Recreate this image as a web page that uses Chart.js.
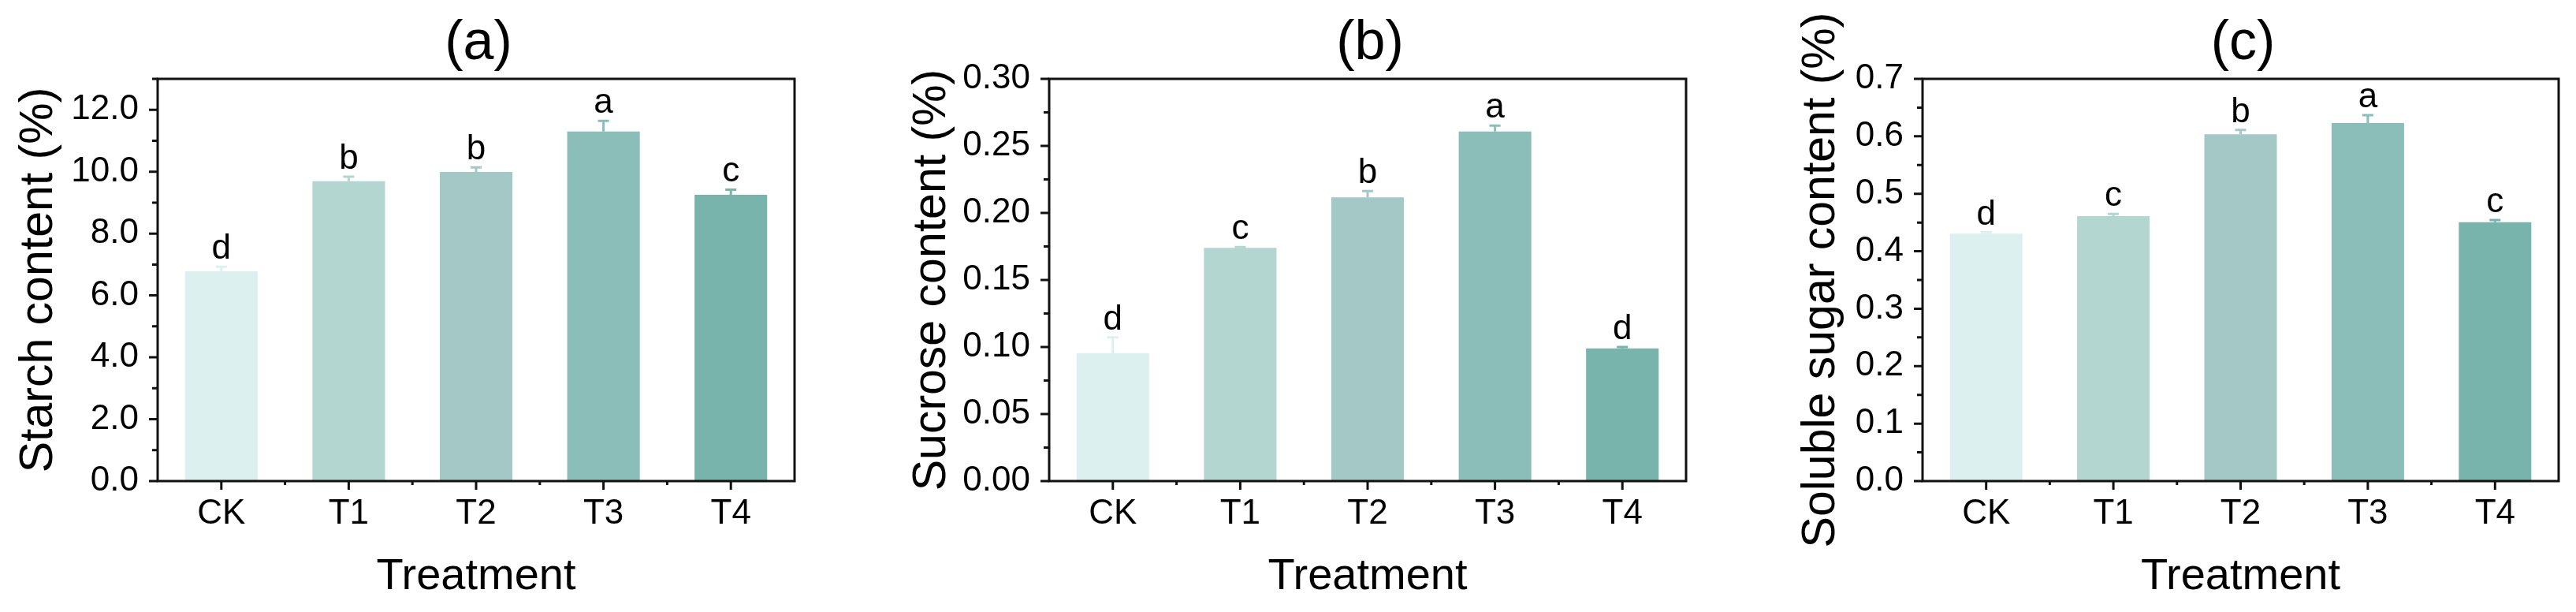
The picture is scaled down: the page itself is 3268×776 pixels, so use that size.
<!DOCTYPE html>
<html>
<head>
<meta charset="utf-8">
<script src="https://cdn.jsdelivr.net/npm/chart.js@4"></script>
<style>
html,body{margin:0;padding:0;background:#fff;width:3268px;height:776px;overflow:hidden}
canvas{position:absolute;top:0}
</style>
</head>
<body>
<canvas id="ca" style="left:0px"></canvas>
<canvas id="cb" style="left:1090px"></canvas>
<canvas id="cc" style="left:2200px"></canvas>
<script>
// ---------- data ----------
const categories = ['CK', 'T1', 'T2', 'T3', 'T4'];
const barColors = ['#dcf1ef', '#b3d6d0', '#a3c8c6', '#8cbeb9', '#79b4ac'];

const starchValues = [6.78, 9.69, 9.99, 11.30, 9.25];
const starchErrors = [0.15, 0.15, 0.15, 0.34, 0.17];
const starchLetters = ['d', 'b', 'b', 'a', 'c'];

const sucroseValues = [0.0955, 0.1739, 0.2116, 0.2608, 0.0990];
const sucroseErrors = [0.0117, 0.0006, 0.0047, 0.0043, 0.0010];
const sucroseLetters = ['d', 'c', 'b', 'a', 'd'];

const sugarValues = [0.4305, 0.4612, 0.6037, 0.6233, 0.4507];
const sugarErrors = [0.0025, 0.0036, 0.0073, 0.0137, 0.0037];
const sugarLetters = ['d', 'c', 'b', 'a', 'c'];

const panelTitles = ['(a)', '(b)', '(c)'];
const yTitles = ['Starch content (%)', 'Sucrose content (%)', 'Soluble sugar content (%)'];
const xTitle = 'Treatment';
const yMaxes = [13, 0.30, 0.7];
const yMajorSteps = [2, 0.05, 0.1];
const yDecimals = [1, 2, 1];

// ---------- drawing ----------
const FAMILY = '"Liberation Sans", Arial, Helvetica, sans-serif';
Chart.defaults.font.family = FAMILY;
Chart.defaults.color = '#000';

const decor = {
  id: 'decor',
  afterDatasetsDraw(chart, args, o) {
    const ctx = chart.ctx;
    const ca = chart.chartArea;
    const x = chart.scales.x, y = chart.scales.y;
    ctx.save();
    // error bars + significance letters
    o.values.forEach((v, i) => {
      const cx = x.getPixelForValue(i);
      const yBar = y.getPixelForValue(v);
      const yTop = y.getPixelForValue(v + o.errors[i]);
      ctx.strokeStyle = o.colors[i];
      ctx.lineWidth = 3;
      ctx.beginPath();
      ctx.moveTo(cx, yBar);
      ctx.lineTo(cx, yTop);
      ctx.moveTo(cx - 7, yTop);
      ctx.lineTo(cx + 7, yTop);
      ctx.stroke();
      ctx.fillStyle = '#000';
      ctx.font = '44px ' + FAMILY;
      ctx.textAlign = 'center';
      ctx.textBaseline = 'alphabetic';
      ctx.fillText(o.letters[i], cx, yTop - 10);
    });
    // frame
    ctx.strokeStyle = '#111';
    ctx.lineWidth = 3;
    ctx.strokeRect(ca.left, ca.top, ca.right - ca.left, ca.bottom - ca.top);
    // y ticks (major + minor)
    const vals = y.ticks.map(t => t.value);
    ctx.beginPath();
    vals.forEach(v => {
      const py = y.getPixelForValue(v);
      ctx.moveTo(ca.left, py); ctx.lineTo(ca.left - 11, py);
    });
    for (let i = 0; i < vals.length; i++) {
      const mid = i < vals.length - 1 ? (vals[i] + vals[i + 1]) / 2 : vals[i] + o.step / 2;
      if (mid <= y.max + 1e-9) {
        const py = y.getPixelForValue(mid);
        ctx.moveTo(ca.left, py); ctx.lineTo(ca.left - 7, py);
      }
    }
    // x ticks (major at categories, minor between)
    categories.forEach((c, i) => {
      const px = x.getPixelForValue(i);
      ctx.moveTo(px, ca.bottom); ctx.lineTo(px, ca.bottom + 11);
      if (i < categories.length - 1) {
        const pm = (px + x.getPixelForValue(i + 1)) / 2;
        ctx.moveTo(pm, ca.bottom); ctx.lineTo(pm, ca.bottom + 5);
      }
    });
    ctx.stroke();
    // panel title
    ctx.fillStyle = '#000';
    ctx.font = '70px ' + FAMILY;
    ctx.textAlign = 'center';
    ctx.textBaseline = 'alphabetic';
    ctx.fillText(o.title, (ca.left + ca.right) / 2 + 3, 75);
    ctx.restore();
  }
};

function makeChart(id, width, yAxisWidth, rightPad, yTitlePad, idx, values, errors, letters) {
  const canvas = document.getElementById(id);
  canvas.width = width;
  canvas.height = 776;
  canvas.style.width = width + 'px';
  canvas.style.height = '776px';
  return new Chart(canvas, {
    type: 'bar',
    data: {
      labels: categories,
      datasets: [{
        data: values,
        backgroundColor: barColors,
        borderWidth: 0,
        barPercentage: 0.57,
        categoryPercentage: 1
      }]
    },
    options: {
      responsive: false,
      devicePixelRatio: 1,
      animation: false,
      layout: { padding: { top: 100, right: rightPad, left: 0, bottom: 0 } },
      plugins: {
        legend: { display: false },
        tooltip: { enabled: false },
        decor: {
          values: values, errors: errors, letters: letters, colors: barColors,
          step: yMajorSteps[idx], title: panelTitles[idx]
        }
      },
      scales: {
        x: {
          grid: { display: false, drawTicks: false },
          border: { display: false },
          ticks: { font: { size: 44 }, color: '#000', padding: 15, maxRotation: 0, autoSkip: false },
          title: { display: true, text: xTitle, color: '#000', font: { size: 56 }, padding: { top: 0, bottom: 11 } },
          afterFit: s => { s.height = 166; }
        },
        y: {
          min: 0,
          max: yMaxes[idx],
          grid: { display: false, drawTicks: false },
          border: { display: false },
          ticks: {
            stepSize: yMajorSteps[idx],
            includeBounds: idx !== 0,
            autoSkip: false,
            font: { size: 44 },
            color: '#000',
            padding: 24,
            callback: v => Number(v).toFixed(yDecimals[idx])
          },
          title: { display: true, text: yTitles[idx], color: '#000', font: { size: 59 }, padding: { top: yTitlePad, bottom: 0 } },
          afterFit: s => { s.width = yAxisWidth; }
        }
      }
    },
    plugins: [decor]
  });
}

makeChart('ca', 1090, 200, 82, 14, 0, starchValues, starchErrors, starchLetters);
makeChart('cb', 1110, 241, 61, 57, 1, sucroseValues, sucroseErrors, sucroseLetters);
makeChart('cc', 1068, 239, 22, 75, 2, sugarValues, sugarErrors, sugarLetters);
</script>
</body>
</html>
